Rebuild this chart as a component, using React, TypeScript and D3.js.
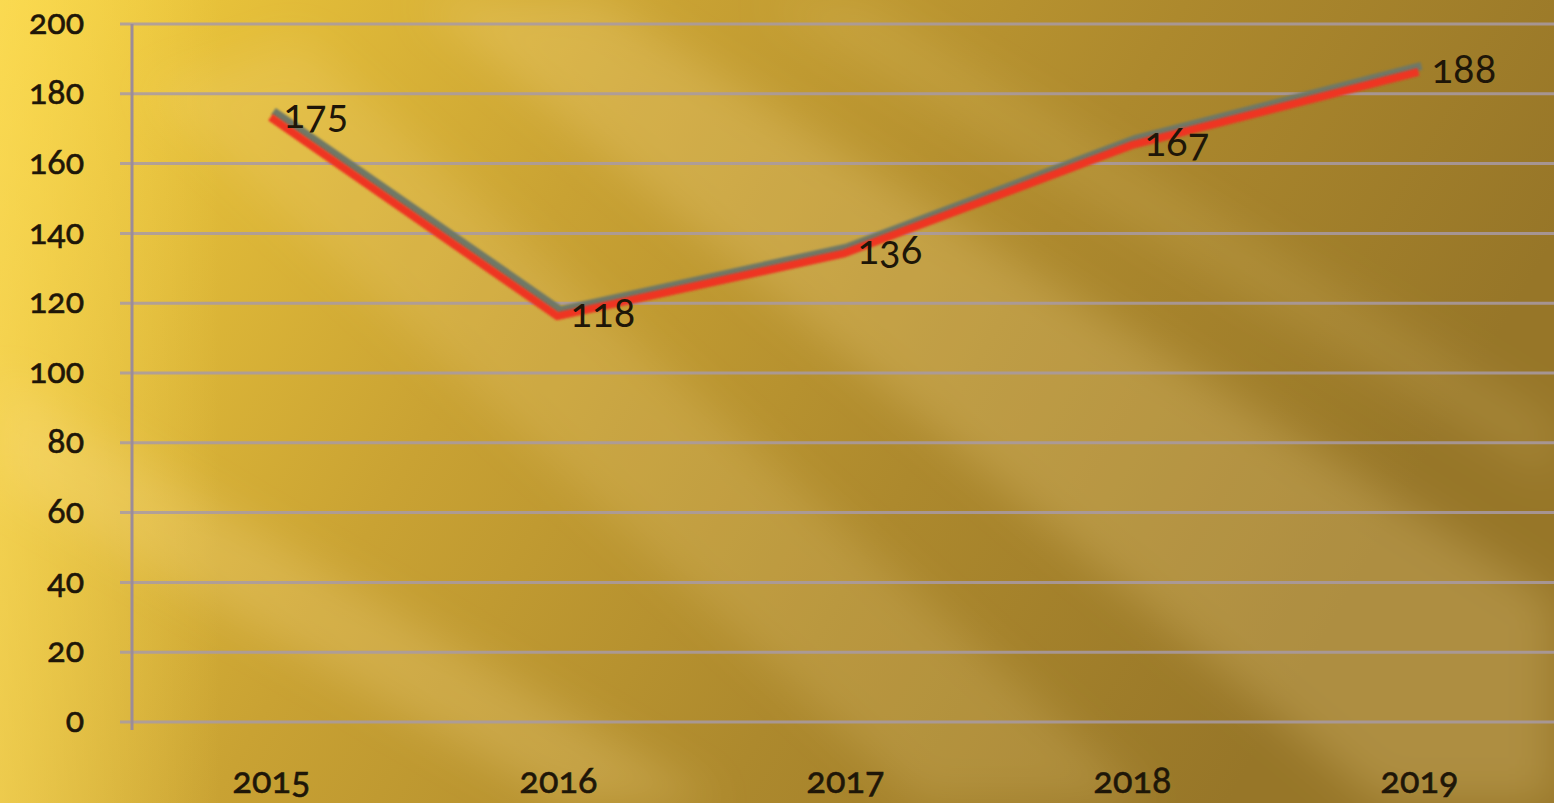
import React from "react";
import * as d3 from "d3";

const years = ["2015", "2016", "2017", "2018", "2019"];
const values = [175, 118, 136, 167, 188];
const yTicks = [0, 20, 40, 60, 80, 100, 120, 140, 160, 180, 200];

const W = 1554;
const H = 803;

export default function App() {
  const x = d3.scaleBand<string>().domain(years).range([130, 1565]);
  const y = d3.scaleLinear().domain([0, 200]).range([722, 24]);
  const cx = (d: string) => (x(d) as number) + x.bandwidth() / 2;
  const pts: [number, number][] = years.map((d, i) => [cx(d), y(values[i])]);
  const line = d3.line();
  const redPts: [number, number][] = pts.map(([a, b]) => [a - 3, b + 6]);
  const fontFam = "Lato, 'Open Sans', sans-serif";
  const numStyle = { fontVariantNumeric: "oldstyle-nums", fontFeatureSettings: "'onum' 1" } as any;

  const streaks = [
    { pts: "420,0 600,0 1554,600 1554,803 1380,803", op: 0.22 },
    { pts: "150,90 300,40 1150,803 920,803", op: 0.16 },
    { pts: "0,380 0,480 560,803 720,803", op: 0.22 },
    { pts: "760,0 860,0 1554,420 1554,480", op: 0.12 },
  ];

  return (
    <svg width={W} height={H} style={{ position: "fixed", left: 0, top: 0 }}>
      <defs>
        <linearGradient id="bg" x1="0" y1="0" x2="1" y2="0.3">
          <stop offset="0" stopColor="#f5d23e" />
          <stop offset="0.12" stopColor="#e8c23a" />
          <stop offset="0.4" stopColor="#c9a233" />
          <stop offset="0.7" stopColor="#ad892d" />
          <stop offset="1" stopColor="#977628" />
        </linearGradient>
        <linearGradient id="leftglow" x1="0" y1="0" x2="1" y2="0">
          <stop offset="0" stopColor="#ffe060" stopOpacity="0.55" />
          <stop offset="1" stopColor="#ffe060" stopOpacity="0" />
        </linearGradient>
        <filter id="blur" x="-20%" y="-20%" width="140%" height="140%">
          <feGaussianBlur stdDeviation="22" />
        </filter>
        <filter id="soft" x="-5%" y="-50%" width="110%" height="200%">
          <feGaussianBlur stdDeviation="1.3" />
        </filter>
      </defs>
      <rect x={0} y={0} width={W} height={H} fill="url(#bg)" />
      <rect x={0} y={0} width={220} height={H} fill="url(#leftglow)" />
      <g filter="url(#blur)">
        {streaks.map((s, i) => (
          <polygon key={i} points={s.pts} fill="#ffe49a" opacity={s.op} />
        ))}
      </g>
      {yTicks.map((t) => (
        <line
          key={t}
          x1={120}
          x2={W}
          y1={y(t)}
          y2={y(t)}
          stroke="#a89aa4"
          strokeOpacity={0.85}
          strokeWidth={3}
        />
      ))}
      <line x1={132} x2={132} y1={y(200)} y2={y(0) + 8} stroke="#9c8c98" strokeWidth={3} />
      {yTicks.map((t) => (
        <text
          key={"l" + t}
          x={84}
          y={y(t)}
          dy="0.3em"
          textAnchor="end"
          fontFamily={fontFam}
          fontSize={34}
          fill="#1e1608"
          stroke="#1e1608"
          strokeWidth={0.6}
          style={numStyle}
        >
          {t}
        </text>
      ))}
      {years.map((d) => (
        <text
          key={d}
          x={cx(d) - 2}
          y={780}
          dy="0.35em"
          textAnchor="middle"
          fontFamily={fontFam}
          fontSize={36}
          fill="#1e1608"
          stroke="#1e1608"
          strokeWidth={0.6}
          style={numStyle}
        >
          {d}
        </text>
      ))}
      <path d={line(pts) as string} fill="none" stroke="#6f7866" strokeWidth={8} strokeLinejoin="round" filter="url(#soft)" />
      <path d={line(redPts) as string} fill="none" stroke="#ee3422" strokeWidth={8} strokeLinejoin="round" filter="url(#soft)" />
      {years.map((d, i) => (
        <text
          key={"v" + d}
          x={cx(d) + 10}
          y={y(values[i]) + 3}
          dy="0.35em"
          fontFamily={fontFam}
          fontSize={40}
          fill="#1e1608"
          style={numStyle}
        >
          {values[i]}
        </text>
      ))}
    </svg>
  );
}
